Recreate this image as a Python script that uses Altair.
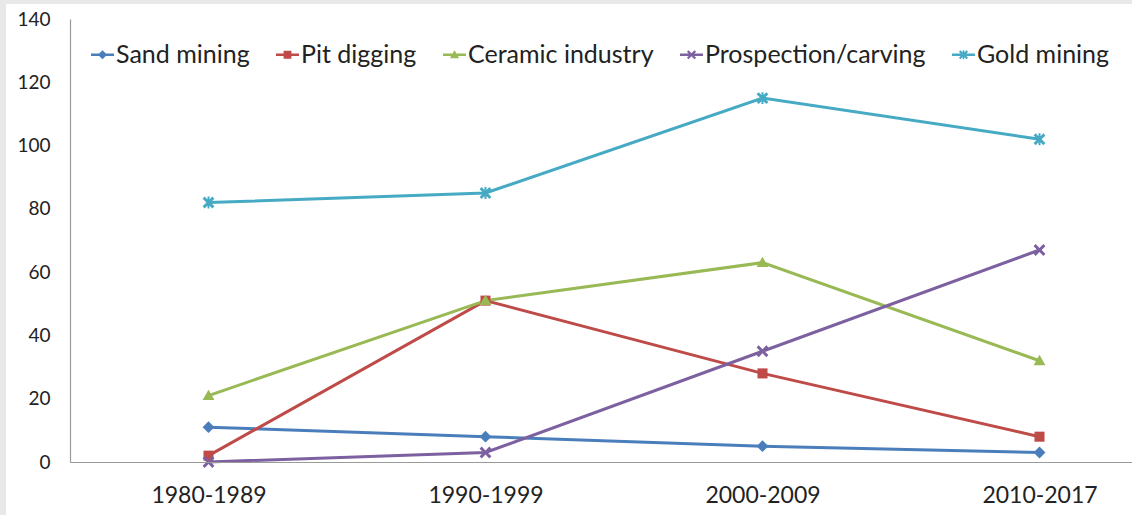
import altair as alt
import pandas as pd

periods = ["1980-1989", "1990-1999", "2000-2009", "2010-2017"]
series = ["Sand mining", "Pit digging", "Ceramic industry", "Prospection/carving", "Gold mining"]
sand_mining = [11, 8, 5, 3]
pit_digging = [2, 51, 28, 8]
ceramic_industry = [21, 51, 63, 32]
prospection_carving = [0, 3, 35, 67]
gold_mining = [82, 85, 115, 102]
colors = ["#4A7EBB", "#BE4B48", "#98B954", "#7D60A0", "#46AAC5"]
y_ticks = [0, 20, 40, 60, 80, 100, 120, 140]

values = [sand_mining, pit_digging, ceramic_industry, prospection_carving, gold_mining]
rows = []
for si, (name, vals) in enumerate(zip(series, values)):
    for p, v in zip(periods, vals):
        rows.append({"series": name, "period": p, "value": v, "order": si})
df = pd.DataFrame(rows)

# marker outlines (unit box)
X_POLY = [(-1, -0.65), (-0.65, -1), (0, -0.35), (0.65, -1), (1, -0.65), (0.35, 0),
          (1, 0.65), (0.65, 1), (0, 0.35), (-0.65, 1), (-1, 0.65), (-0.35, 0)]
markers = [
    [[(0, -1), (1, 0), (0, 1), (-1, 0)]],
    [[(-0.85, -0.85), (0.85, -0.85), (0.85, 0.85), (-0.85, 0.85)]],
    [[(0, -1), (1, 0.75), (-1, 0.75)]],
    [X_POLY],
    [X_POLY, [(-0.17, -1), (0.17, -1), (0.17, 1), (-0.17, 1)]],
]
BAR = [(-1, -0.11), (1, -0.11), (1, 0.11), (-1, 0.11)]


def to_path(polys, s=1.0):
    out = ""
    for poly in polys:
        pts = ["%.3f,%.3f" % (x * s, y * s) for x, y in poly]
        out += "M" + "L".join(pts) + "Z"
    return out


chart_shapes = [to_path(m) for m in markers]
legend_shapes = [to_path([BAR]) + to_path(m, 0.4) for m in markers]

FONT = "Lato"
TXT = "#222222"
W, H = 1062, 443

x_enc = alt.X("period:N", sort=periods,
              scale=alt.Scale(type="point", range=[0, 1108], padding=0.5),
              axis=alt.Axis(title=None, labelFont=FONT, labelFontSize=23, labelColor=TXT,
                            labelPadding=22, ticks=False, domainColor="#9a9a9a",
                            domainWidth=1.2, labelAngle=0, grid=False, zindex=1))
y_enc = alt.Y("value:Q", scale=alt.Scale(domain=[0, 140], nice=False),
              axis=alt.Axis(title=None, values=y_ticks, labelFont=FONT, labelFontSize=19,
                            labelColor=TXT, labelPadding=20, ticks=False,
                            domainColor="#9a9a9a", domainWidth=1.2, grid=False, zindex=1))

bg = alt.Chart(pd.DataFrame({"a": [0]})).mark_rect(color="white").encode(
    x=alt.value(-64), x2=alt.value(W), y=alt.value(-15), y2=alt.value(H + 53))

lines = alt.Chart(df).mark_line(strokeWidth=3).encode(
    x=x_enc, y=y_enc,
    color=alt.Color("series:N", scale=alt.Scale(domain=series, range=colors), legend=None),
    order="order:Q",
)

points = alt.Chart(df).mark_point(filled=True, size=140, opacity=1).encode(
    x=x_enc, y=y_enc,
    color=alt.Color("series:N", scale=alt.Scale(domain=series, range=colors), legend=None),
    shape=alt.Shape("series:N", scale=alt.Scale(domain=series, range=chart_shapes), legend=None),
)

leg = alt.Legend(title=None, orient="none", legendX=20, legendY=23, direction="horizontal",
                 columns=5, labelFont=FONT, labelFontSize=25, labelColor=TXT, labelLimit=500,
                 symbolSize=529, symbolStrokeWidth=0, labelOffset=1, columnPadding=25)

legend_layer = alt.Chart(df).transform_filter("false").mark_point(filled=True, opacity=1).encode(
    color=alt.Color("series:N", scale=alt.Scale(domain=series, range=colors), legend=leg),
    shape=alt.Shape("series:N", scale=alt.Scale(domain=series, range=legend_shapes), legend=leg),
)

chart = alt.layer(bg, lines, points, legend_layer).resolve_scale(
    color="independent", shape="independent"
).properties(
    width=W, height=H,
    autosize=alt.AutoSizeParams(type="none"),
    padding={"left": 70, "top": 19, "right": 0, "bottom": 53},
    background="#e8e8e8",
).configure_view(stroke=None)

chart.save("out.html", embed_options={"renderer": "svg", "actions": False})
